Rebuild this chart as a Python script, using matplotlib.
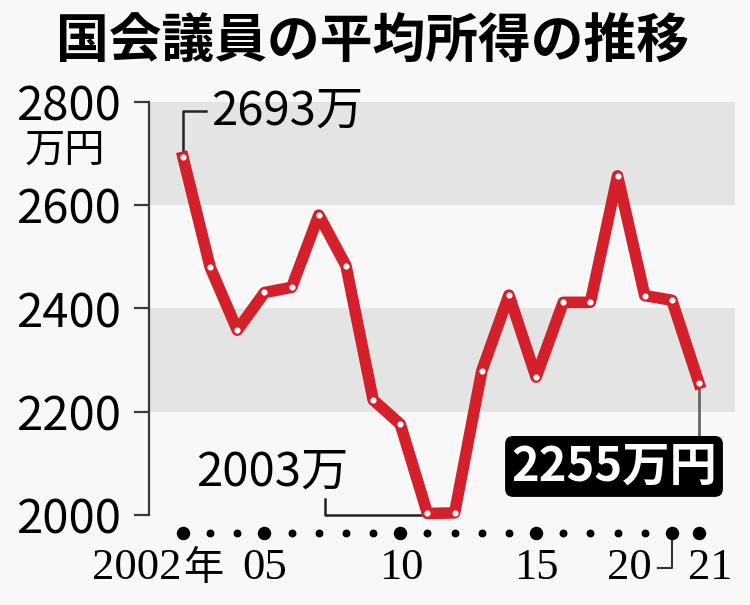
import matplotlib.pyplot as plt
from matplotlib.patches import FancyBboxPatch

plt.rcParams['font.family'] = ['Noto Sans CJK JP', 'DejaVu Sans']

# ==========================
# データ
# ==========================
YEARS = list(range(2002, 2022))
INCOME = [2693, 2480, 2358, 2431, 2441, 2581, 2483, 2223, 2176, 2003,
          2004, 2279, 2426, 2267, 2412, 2412, 2657, 2425, 2416, 2255]
Y_TICKS = [2000, 2200, 2400, 2600, 2800]
BANDS = [(2200, 2400), (2600, 2800)]
BIG_DOT_YEARS = [2002, 2005, 2010, 2015, 2020, 2021]
X_LABELS = ["2002年", "05", "10", "15", "20", "21"]
X_LABEL_POS = [2001.96, 2005.0, 2010.05, 2015.0, 2018.45, 2021.4]

RED = "#d3202b"
BG = "#f8f8f8"
BAND = "#e4e4e4"

fig = plt.figure(figsize=(7.5, 6.05), dpi=100, facecolor=BG)
ax = fig.add_axes([0.2, 0.1488, 0.78, 0.6826])
ax.set_facecolor(BG)
ax.set_xlim(2000.785, 2022.325)
ax.set_ylim(2000, 2800)

for lo, hi in BANDS:
    ax.axhspan(lo, hi, color=BAND, lw=0, zorder=0)

# 折れ線
ax.plot(YEARS, INCOME, color=RED, lw=8.3, solid_joinstyle='round',
        zorder=3, clip_on=False)
ax.plot(YEARS, INCOME, ls='none', marker='o', ms=3.4, mfc='white',
        mec='white', zorder=4, clip_on=False)

# 軸
for s in ['top', 'right', 'bottom']:
    ax.spines[s].set_visible(False)
ax.spines['left'].set_color('#3a3a3a')
ax.spines['left'].set_linewidth(1.6)
ax.spines['left'].set_position(('outward', 1))
ax.set_yticks(Y_TICKS)
ax.set_yticklabels([str(v) for v in Y_TICKS])
ax.tick_params(axis='y', direction='out', length=11, width=1.6,
               color='#3a3a3a', pad=9, labelsize=34)
ax.set_xticks([])

fig.text(0.087, 0.752, "万円", fontsize=29, ha='center', va='center')

# x軸の点
dot_y = 1965
small = [y for y in YEARS if y not in BIG_DOT_YEARS]
ax.scatter(small, [dot_y] * len(small), s=22, color='black', clip_on=False, zorder=5)
ax.scatter(BIG_DOT_YEARS, [dot_y] * len(BIG_DOT_YEARS), s=75, color='black',
           clip_on=False, zorder=5)

for lab, xp in zip(X_LABELS, X_LABEL_POS):
    if lab.endswith("年"):
        ax.text(xp, 1897, lab[:-1], fontsize=32, family=['Liberation Serif'],
                ha='right', va='center', clip_on=False)
        ax.text(xp + 0.05, 1897, "年", fontsize=29, family=['Noto Sans CJK JP'],
                ha='left', va='center', clip_on=False)
    else:
        ax.text(xp, 1897, lab, fontsize=32, family=['Liberation Serif'],
                ha='center', va='center', clip_on=False)

# 20年の引き出し線
ax.plot([2020, 2020, 2019.5], [dot_y, 1898, 1898], color='#333333', lw=1.5,
        clip_on=False)

# 注記: 最高値
ax.plot([2002, 2002, 2002.85], [INCOME[0], 2782, 2782], color='#222222',
        lw=1.8, clip_on=False, zorder=2)
ax.text(2003.05, 2782, "2693万", fontsize=34, ha='left', va='center')

# 注記: 最低値
ax.plot([2011, 2007.23, 2007.23], [2000, 2000, 2030], color='#222222',
        lw=1.8, clip_on=False, zorder=2)
ax.text(2005.3, 2083, "2003万", fontsize=34, ha='center', va='center')

# 注記: 最新値
ax.plot([2021, 2021], [INCOME[-1], 2153], color='#666666', lw=2, zorder=2)
box = FancyBboxPatch((2013.86, 2035), 8.02, 118,
                     boxstyle="round,pad=0,rounding_size=0.3",
                     mutation_aspect=52.6, fc='black', ec='none', zorder=6,
                     clip_on=False)
ax.add_patch(box)
ax.text(2017.87, 2094, "2255万円", fontsize=34, color='white', ha='center',
        va='center', weight='bold', zorder=7)

fig.text(0.496, 0.93, "国会議員の平均所得の推移", fontsize=38, weight='bold',
         ha='center', va='center')

fig.savefig("out.png", dpi=100, facecolor=BG)
